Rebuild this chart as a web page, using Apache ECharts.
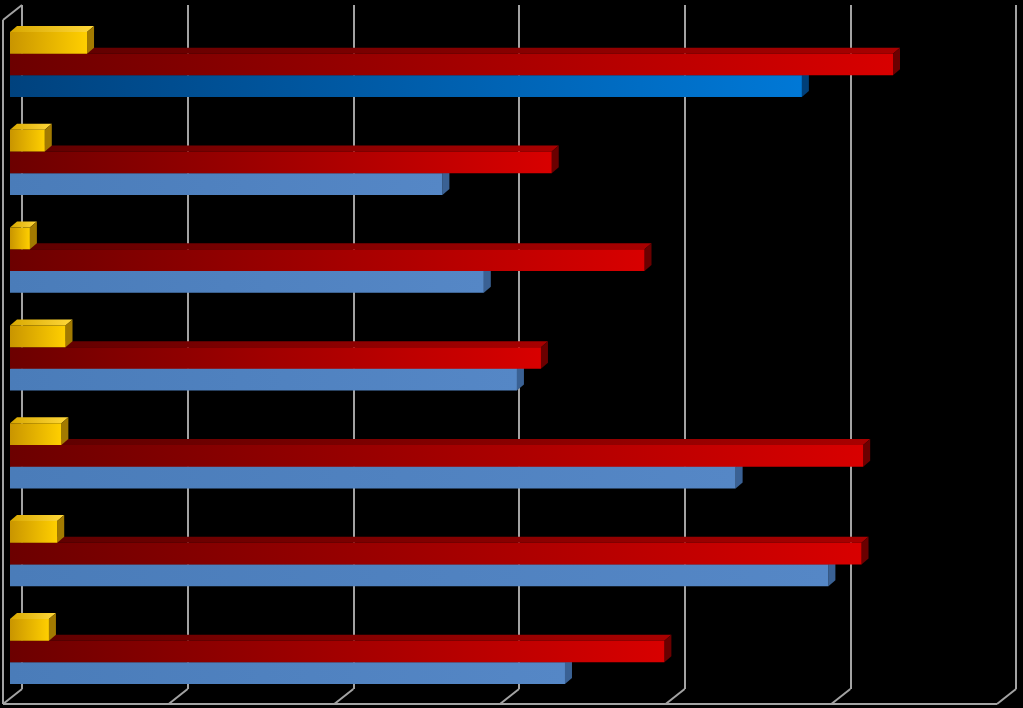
<!DOCTYPE html>
<html>
<head>
<meta charset="utf-8">
<script src="https://cdn.jsdelivr.net/npm/echarts@6/dist/echarts.min.js"></script>
<style>
  html, body { margin: 0; padding: 0; background: #000; }
  #chart { width: 1023px; height: 708px; }
</style>
</head>
<body>
<div id="chart"></div>
<script>
// values (one band per category, top to bottom)
var categories = ['1', '2', '3', '4', '5', '6', '7'];
var yellowValues = [4.65, 2.1, 1.2, 3.35, 3.1, 2.85, 2.35];
var redValues = [53.3, 32.7, 38.3, 32.05, 51.5, 51.4, 39.5];
var blueValues = [47.8, 26.1, 28.6, 30.6, 43.8, 49.4, 33.5];
var ticks = [0, 10, 20, 30, 40, 50, 60];

var chartDom = document.getElementById('chart');
var myChart = echarts.init(chartDom);

var BAR_DX = 7, BAR_DY = 6;        // depth of a bar box
var WALL_DX = 19, WALL_DY = 15;    // depth of the floor / wall
var BAR_RATIO = 0.222;
var GRID_COLOR = '#a3a3a3';

function hGrad(a, b) {
  return new echarts.graphic.LinearGradient(0, 0, 1, 0, [
    { offset: 0, color: a }, { offset: 1, color: b }
  ]);
}

var yellowStyle = { front: hGrad('#c99500', '#ffcf00'), top: hGrad('#d8a800', '#ffd83a'), side: '#a27a00' };
var redStyle = { front: hGrad('#6c0000', '#d80000'), top: hGrad('#5c0000', '#a80000'), side: '#6a0000' };
var blueStyle = { front: hGrad('#4a7cb9', '#5587c6'), top: '#6f9bd2', side: '#3a6194' };
var blueHot = { front: hGrad('#00427e', '#0078d6'), top: '#2a7fcc', side: '#003f78' };

function barRenderer(slot, styleFor) {
  return function (params, api) {
    var cat = api.value(0), val = api.value(1);
    var start = api.coord([0, cat]);
    var end = api.coord([val, cat]);
    var band = api.size([0, 1])[1];
    var h = band * BAR_RATIO;
    var top = start[1] - 1.5 * h + slot * h;
    var x0 = start[0], x1 = end[0];
    var s = styleFor(params.dataIndex);
    return {
      type: 'group',
      children: [
        { type: 'polygon', shape: { points: [[x0, top], [x0 + BAR_DX, top - BAR_DY], [x1 + BAR_DX, top - BAR_DY], [x1, top]] }, style: { fill: s.top } },
        { type: 'polygon', shape: { points: [[x1, top], [x1 + BAR_DX, top - BAR_DY], [x1 + BAR_DX, top + h - BAR_DY], [x1, top + h]] }, style: { fill: s.side } },
        { type: 'rect', shape: { x: x0, y: top, width: x1 - x0, height: h }, style: { fill: s.front } }
      ]
    };
  };
}

function frameRenderer(params, api) {
  var v = api.value(0);
  var bottom = api.coord([v, 0]);
  var children = [
    { type: 'line', shape: { x1: bottom[0], y1: bottom[1], x2: bottom[0] - WALL_DX, y2: bottom[1] + WALL_DY }, style: { stroke: GRID_COLOR, lineWidth: 2 } }
  ];
  if (params.dataIndex === 0) {
    var topP = api.coord([v, 1]);
    var last = api.coord([ticks[ticks.length - 1], 0]);
    var fx = bottom[0] - WALL_DX;
    children.push(
      { type: 'line', shape: { x1: fx, y1: bottom[1] + WALL_DY, x2: last[0] - WALL_DX, y2: bottom[1] + WALL_DY }, style: { stroke: GRID_COLOR, lineWidth: 2 } },
      { type: 'line', shape: { x1: fx, y1: bottom[1] + WALL_DY, x2: fx, y2: topP[1] + WALL_DY }, style: { stroke: GRID_COLOR, lineWidth: 2 } },
      { type: 'line', shape: { x1: fx, y1: topP[1] + WALL_DY, x2: topP[0], y2: topP[1] }, style: { stroke: GRID_COLOR, lineWidth: 2 } }
    );
  }
  return { type: 'group', children: children };
}

function pairs(values) {
  return values.map(function (v, i) { return [i, v]; });
}

var option = {
  backgroundColor: '#000000',
  animation: false,
  grid: [
    { left: 10, right: 19, top: 15.6, bottom: 7.6 },
    { left: 22, right: 7, top: 5, bottom: 19 }
  ],
  xAxis: [
    { gridIndex: 0, type: 'value', min: 0, max: 60, interval: 10, show: false },
    {
      gridIndex: 1, type: 'value', min: 0, max: 60, interval: 10,
      axisLine: { show: false }, axisTick: { show: false }, axisLabel: { show: false },
      splitLine: { show: true, lineStyle: { color: GRID_COLOR, width: 2 } }
    }
  ],
  yAxis: [
    { gridIndex: 0, type: 'category', data: categories, inverse: true, show: false },
    { gridIndex: 1, type: 'value', min: 0, max: 1, show: false }
  ],
  series: [
    {
      type: 'custom', name: 'frame', xAxisIndex: 1, yAxisIndex: 1, z: 1, silent: true,
      data: ticks.map(function (t) { return [t]; }), encode: { x: 0 },
      renderItem: frameRenderer
    },
    {
      type: 'custom', name: 'Yellow', z: 4, clip: false,
      data: pairs(yellowValues), encode: { x: 1, y: 0 },
      renderItem: barRenderer(0, function () { return yellowStyle; })
    },
    {
      type: 'custom', name: 'Red', z: 3, clip: false,
      data: pairs(redValues), encode: { x: 1, y: 0 },
      renderItem: barRenderer(1, function () { return redStyle; })
    },
    {
      type: 'custom', name: 'Blue', z: 2, clip: false,
      data: pairs(blueValues), encode: { x: 1, y: 0 },
      renderItem: barRenderer(2, function (i) { return i === 0 ? blueHot : blueStyle; })
    }
  ]
};

myChart.setOption(option);
</script>
</body>
</html>
